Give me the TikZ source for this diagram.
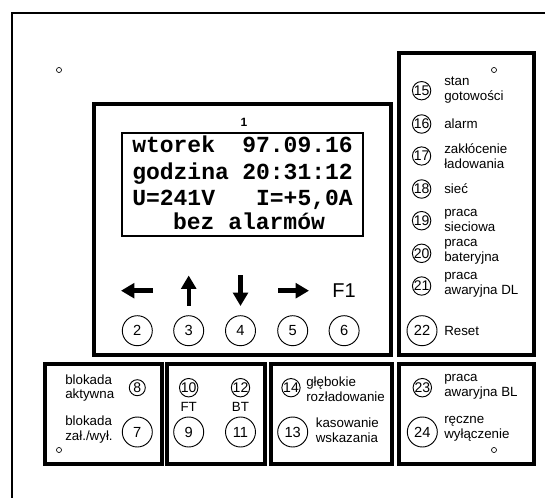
\documentclass[tikz,border=0pt]{standalone}
\usepackage{fontspec}
\setmainfont{Liberation Sans}
\setmonofont{Liberation Mono}
\usetikzlibrary{arrows.meta}

\begin{document}
\begin{tikzpicture}[x=0.75pt, y=-0.75pt,
  every node/.style={inner sep=0pt, font=\fontsize{10}{11}\selectfont},
  panel/.style={draw, line width=2.4pt},
  btn/.style={circle, draw, line width=0.7pt, minimum size=22.5pt, font=\fontsize{11}{12}\selectfont},
  led/.style={circle, draw, line width=0.7pt, minimum size=12pt, font=\fontsize{10.5}{12}\selectfont},
  hole/.style={circle, draw, line width=0.5pt, minimum size=3.8pt},
  lbl/.style={anchor=west, align=left},
  lcd/.style={anchor=base west, font=\fontsize{17.25}{20}\selectfont\ttfamily\bfseries},
  arr/.style={line width=3.3pt, -{Triangle[length=10pt, width=11pt]}}]
  \useasboundingbox (0,0) rectangle (545,498);
  \clip (0,0) rectangle (545,498);
  % housing and panels
  \draw [line width=1.5pt] (12,13) rectangle (620,620);
  \draw [panel] (94,104) rectangle (391,355);
  \draw [panel] (399,53) rectangle (534,355);
  \draw [panel, line width=3pt] (44.5,363.5) rectangle (161.5,464);
  \draw [panel, line width=3pt] (167,363.5) rectangle (265,464);
  \draw [panel, line width=3pt] (271,363.5) rectangle (392,464);
  \draw [panel, line width=3pt] (399,363.5) rectangle (534,464);
  \draw [line width=1.3pt] (122,133) rectangle (363,236);
  % mounting holes
  \node [hole] (h1) at (59,70) {};
  \node [hole] (h2) at (494,70) {};
  \node [hole] (h3) at (59,450) {};
  \node [hole] (h4) at (494,450) {};
  % display
  \node [font=\fontsize{9}{10}\selectfont\bfseries] (n1) at (244,122.5) {1};
  \node [lcd] (d1) at (132,153) {wtorek};
  \node [lcd, anchor=base east] (d2) at (353,153) {97.09.16};
  \node [lcd] (d3) at (132,179.5) {godzina};
  \node [lcd, anchor=base east] (d4) at (353,179.5) {20:31:12};
  \node [lcd] (d5) at (132,206) {U=241V};
  \node [lcd, anchor=base east] (d6) at (353,206) {I=+5,0A};
  \node [lcd, anchor=base] (d7) at (249,230) {bez alarmów};
  % keys
  \draw [arr] (153,290.7) -- (121,290.7);
  \draw [arr] (188.7,306) -- (188.7,275.5);
  \draw [arr] (240.5,275.5) -- (240.5,306);
  \draw [arr] (278,290.7) -- (309,290.7);
  \node [font=\fontsize{15}{17}\selectfont] (f1) at (344,290.7) {F1};
  \foreach \n/\x in {2/137.3, 3/188.7, 4/240.5, 5/292.7, 6/344.1} {
    \node [btn] (b\n) at (\x,330.7) {\n};
  }
  % indicators
  \foreach \n/\y in {15/90.7, 16/124, 17/156, 18/189, 19/220.7, 20/253.3, 21/286} {
    \node [led] (l\n) at (421.6,\y) {\n};
  }
  \node [btn] (b22) at (422,330.7) {22};
  \node [lbl] (t15) at (444,90) {stan\\gotowości};
  \node [lbl] (t16) at (444,124) {alarm};
  \node [lbl] (t17) at (444,156.3) {zakłócenie\\ładowania};
  \node [lbl] (t18) at (444,189) {sieć};
  \node [lbl] (t19) at (444,220.7) {praca\\sieciowa};
  \node [lbl] (t20) at (444,252) {praca\\bateryjna};
  \node [lbl] (t21) at (444,284.5) {praca\\awaryjna DL};
  \node [lbl] (t22) at (444,330.7) {Reset};
  % lower panels
  \node [led] (l8) at (137.3,387.7) {8};
  \node [btn] (b7) at (137.3,432) {7};
  \node [lbl] (t8) at (65,388) {blokada\\aktywna};
  \node [lbl] (t7) at (65,429.7) {blokada\\zał./wył.};
  \node [led] (l10) at (188.7,387.7) {10};
  \node [led] (l12) at (240.5,387.7) {12};
  \node (ft) at (188.7,406.7) {FT};
  \node (bt) at (240.5,406.7) {BT};
  \node [btn] (b9) at (188.7,432) {9};
  \node [btn] (b11) at (240.5,432) {11};
  \node [led] (l14) at (291,387.7) {14};
  \node [btn] (b13) at (292.7,432) {13};
  \node [lbl] (t14) at (306,389) {głębokie\\rozładowanie};
  \node [lbl] (t13) at (315.6,430) {kasowanie\\wskazania};
  \node [led] (l23) at (422.3,387.7) {23};
  \node [btn] (b24) at (422.3,432) {24};
  \node [lbl] (t23) at (444,386.8) {praca\\awaryjna BL};
  \node [lbl] (t24) at (444,428.8) {ręczne\\wyłączenie};
\end{tikzpicture}
\end{document}
